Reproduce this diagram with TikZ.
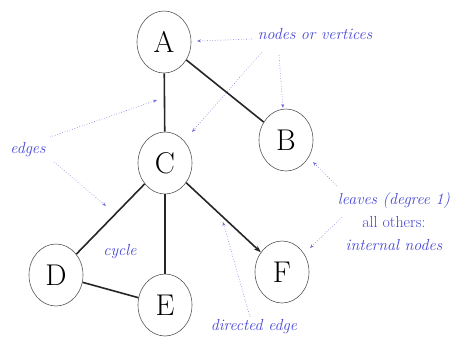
\documentclass[tikz,border=0pt]{standalone}
\usetikzlibrary{shapes.geometric,arrows.meta}
\definecolor{lblue}{RGB}{72,72,215}
\definecolor{dblue}{RGB}{110,110,220}
\begin{document}
\begin{tikzpicture}[x=1pt,y=-1pt,
  vert/.style={ellipse, draw=black!65, line width=0.6pt, minimum width=54pt, minimum height=62pt, inner sep=0pt, font=\fontsize{30}{30}\selectfont},
  edge/.style={line width=1.6pt, black!85},
  lbl/.style={text=lblue, font=\fontsize{16}{23}\selectfont\itshape, inner sep=0pt},
  pointer/.style={dblue, line width=0.6pt, dotted, -{Stealth[length=4pt,width=3pt]}}]
\useasboundingbox[fill=white] (0,0) rectangle (452,341);
\node[vert] (A) at (164,42) {A};
\node[vert] (B) at (286,140) {B};
\node[vert] (C) at (165,163) {C};
\node[vert] (D) at (56,275) {D};
\node[vert] (E) at (165,305) {E};
\node[vert] (F) at (282,272) {F};
\draw[edge] (A) -- (C);
\draw[edge] (A) -- (B);
\draw[edge] (C) -- (D);
\draw[edge] (C) -- (E);
\draw[edge] (D) -- (E);
\draw[edge, -{Stealth[length=7pt,width=5pt]}] (C) -- (F);
\node[lbl] (nv) at (315,34) {nodes or vertices};
\node[lbl] (ed) at (28,150) {edges};
\node[lbl] (cy) at (120,252) {cycle};
\node[lbl, align=center] (lv) at (394,222) {leaves (degree 1)\\\upshape all others:\\internal nodes};
\node[lbl] (de) at (254,327) {directed edge};
\coordinate (nv1) at (252,39);
\coordinate (nv2) at (262,52);
\coordinate (nv3) at (279,55);
\coordinate (ed1) at (50,137);
\coordinate (ed2) at (54,162);
\coordinate (lv1) at (337,186);
\coordinate (lv2) at (342,217);
\coordinate (de1) at (250,317);
\coordinate (tA) at (197,41);
\coordinate (tC) at (192,132);
\coordinate (tB) at (283,108);
\coordinate (tAC) at (157,100);
\coordinate (tCD) at (106,206);
\coordinate (tB2) at (313,162);
\coordinate (tF) at (310,248);
\coordinate (tCF) at (223,222);
\draw[pointer] (nv1) -- (tA);
\draw[pointer] (nv2) -- (tC);
\draw[pointer] (nv3) -- (tB);
\draw[pointer] (ed1) -- (tAC);
\draw[pointer] (ed2) -- (tCD);
\draw[pointer] (lv1) -- (tB2);
\draw[pointer] (lv2) -- (tF);
\draw[pointer] (de1) -- (tCF);
\end{tikzpicture}
\end{document}
